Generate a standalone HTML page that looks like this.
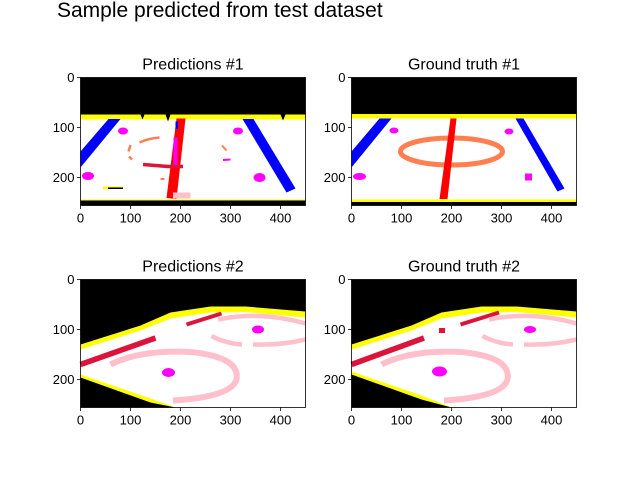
<!DOCTYPE html>
<html><head><meta charset="utf-8"><style>
body{margin:0;background:#fff;}
svg{display:block;font-family:"Liberation Sans","DejaVu Sans",sans-serif;}
</style></head><body>
<svg id="fig" width="640" height="480" viewBox="0 0 640 480">
<rect width="640" height="480" fill="#fff"/>
<text x="57" y="17" font-size="21" fill="#000">Sample predicted from test dataset</text>

<g transform="translate(80.5,77.5) scale(0.5)">
<rect x="0" y="0" width="450" height="256" fill="#000"/>
<rect x="0" y="74" width="450" height="172" fill="#ffff00"/>
<rect x="0" y="84" width="450" height="160" fill="#fff"/>
<rect x="0" y="251" width="450" height="5" fill="#000"/>
<polygon points="120,74 128,74 124,84" fill="#000"/><polygon points="170,74 180,74 175,88" fill="#000"/><polygon points="400,74 410,74 405,86" fill="#000"/>
<polygon points="56,83 80,83 0,180 0,148" fill="#0000ff"/>
<polygon points="324,83 346,83 430,222 412,230" fill="#0000ff"/>
<polygon points="192,82 210,82 192,243 172,241" fill="#ff0000"/>
<rect x="190" y="88" width="5" height="15" fill="#0000ff"/>
<ellipse cx="85" cy="107" rx="10" ry="7" fill="#ff00ff"/>
<ellipse cx="315" cy="107" rx="10" ry="7" fill="#ff00ff"/>
<ellipse cx="15" cy="197" rx="12" ry="8" fill="#ff00ff"/>
<ellipse cx="358" cy="200" rx="12" ry="9" fill="#ff00ff"/>
<rect x="186" y="120" width="8" height="55" fill="#ff00ff"/>
<path d="M118,130 Q135,122 158,120" stroke="#ff7f50" stroke-width="5" fill="none"/>
<path d="M100,135 L96,148" stroke="#ff7f50" stroke-width="5" fill="none"/>
<path d="M97,158 L103,164" stroke="#ff7f50" stroke-width="5" fill="none"/>
<path d="M283,136 L292,146" stroke="#ff7f50" stroke-width="4" fill="none"/>
<path d="M160,203 L168,203" stroke="#ff7f50" stroke-width="4" fill="none"/>
<path d="M125,174 L175,178 L205,178" stroke="#dc143c" stroke-width="7" fill="none"/>
<path d="M285,165 L300,164" stroke="#ff00ff" stroke-width="4" fill="none"/>
<rect x="185" y="230" width="35" height="12" fill="#ffc0cb"/>
<rect x="45" y="218" width="40" height="5" fill="#ffff00"/>
<rect x="55" y="220" width="30" height="3" fill="#000"/>
</g>

<g transform="translate(351.5,77.5) scale(0.5)">
<rect x="0" y="0" width="450" height="256" fill="#000"/>
<rect x="0" y="73" width="450" height="176" fill="#ffff00"/>
<rect x="0" y="82" width="450" height="162" fill="#fff"/>
<rect x="0" y="250" width="450" height="6" fill="#000"/>
<polygon points="56,82 80,82 0,180 0,148" fill="#0000ff"/>
<polygon points="328,82 344,82 426,222 412,228" fill="#0000ff"/>
<ellipse cx="200" cy="148" rx="102" ry="27" stroke="#ff7f50" stroke-width="10" fill="none"/>
<polygon points="198,82 210,82 192,243 176,243" fill="#ff0000"/>
<ellipse cx="85" cy="106" rx="9" ry="6" fill="#ff00ff"/>
<ellipse cx="315" cy="108" rx="9" ry="6" fill="#ff00ff"/>
<ellipse cx="16" cy="198" rx="13" ry="7" fill="#ff00ff"/>
<rect x="347" y="192" width="14" height="14" fill="#ff00ff"/>
</g>

<g transform="translate(80.5,279.5) scale(0.5)">
<rect x="0" y="0" width="450" height="256" fill="#000"/>
<polygon points="0,130 120,92 180,66 260,54 330,54 450,64 450,256 190,256 140,246 0,196" fill="#ffff00"/>
<polygon points="0,140 120,102 180,78 260,66 330,65 450,76 450,256 190,256 140,238 0,190" fill="#fff"/>
<path d="M0,170 L150,117" stroke="#dc143c" stroke-width="11" fill="none"/>
<path d="M212,90 L282,68" stroke="#dc143c" stroke-width="8" fill="none"/>
<path d="M60,170 Q120,140 220,145 Q320,155 312,200 Q302,235 185,242" stroke="#ffc0cb" stroke-width="12" fill="none"/>
<path d="M275,80 Q360,62 450,88" stroke="#ffc0cb" stroke-width="9" fill="none"/>
<path d="M262,113 Q290,128 323,130" stroke="#ffc0cb" stroke-width="9" fill="none"/>
<path d="M345,130 Q400,132 450,120" stroke="#ffc0cb" stroke-width="9" fill="none"/>
<ellipse cx="355" cy="100" rx="12" ry="8" fill="#ff00ff"/>
<ellipse cx="176" cy="186" rx="13" ry="9" fill="#ff00ff"/>
</g>

<g transform="translate(351.5,279.5) scale(0.5)">
<rect x="0" y="0" width="450" height="256" fill="#000"/>
<polygon points="0,130 120,92 180,66 260,54 330,54 450,64 450,256 200,256 140,240 0,190" fill="#ffff00"/>
<polygon points="0,140 120,102 180,78 260,66 330,65 450,76 450,256 200,256 140,232 0,184" fill="#fff"/>
<path d="M0,170 L145,117" stroke="#dc143c" stroke-width="11" fill="none"/>
<path d="M218,90 L295,66" stroke="#dc143c" stroke-width="8" fill="none"/>
<rect x="175" y="97" width="12" height="10" fill="#dc143c"/>
<path d="M60,170 Q120,140 220,145 Q320,155 312,200 Q302,235 185,242" stroke="#ffc0cb" stroke-width="12" fill="none"/>
<path d="M275,80 Q360,62 450,88" stroke="#ffc0cb" stroke-width="9" fill="none"/>
<path d="M262,113 Q290,128 323,130" stroke="#ffc0cb" stroke-width="9" fill="none"/>
<path d="M345,130 Q400,132 450,120" stroke="#ffc0cb" stroke-width="9" fill="none"/>
<ellipse cx="357" cy="100" rx="12" ry="7" fill="#ff00ff"/>
<ellipse cx="176" cy="184" rx="15" ry="10" fill="#ff00ff"/>
</g>
<g id="axes-layer"></g>
</svg>
<script>
const xTicks = [0, 100, 200, 300, 400];
const yTicks = [0, 100, 200];
const imgWidth = [450];
const imgHeight = [256];
const panelTitles = ["Predictions #1", "Ground truth #1", "Predictions #2", "Ground truth #2"];

const NS = "http://www.w3.org/2000/svg";
const layer = document.getElementById("axes-layer");
const origins = [[80.5, 77.5], [351.5, 77.5], [80.5, 279.5], [351.5, 279.5]];
const scale = 0.5;
function mk(tag, attrs) {
  const e = document.createElementNS(NS, tag);
  for (const k in attrs) e.setAttribute(k, attrs[k]);
  return e;
}
origins.forEach(function (o, i) {
  const ox = o[0], oy = o[1];
  const w = imgWidth[0] * scale, h = imgHeight[0] * scale;
  const sx = v => ox + v * scale;
  const sy = v => oy + v * scale;
  const frame = mk("rect", {x: ox, y: oy, width: w, height: h, fill: "none", stroke: "#000", "stroke-width": 0.8});
  
  
  layer.appendChild(frame);
  const t = mk("text", {x: ox + w / 2, y: oy - 8, "font-size": 16, "text-anchor": "middle", fill: "#000"});
  t.textContent = panelTitles[i];
  
  
  layer.appendChild(t);
  xTicks.forEach(function (v) {
    const x = sx(v);
    const tk = mk("line", {x1: x, x2: x, y1: oy + h, y2: oy + h + 3.5, stroke: "#000", "stroke-width": 0.8});
    
    
    layer.appendChild(tk);
    const lb = mk("text", {x: x, y: oy + h + 17, "font-size": 13, "text-anchor": "middle", fill: "#000"});
    lb.textContent = v;
    
    
    layer.appendChild(lb);
  });
  yTicks.forEach(function (v) {
    const y = sy(v);
    const tk = mk("line", {x1: ox - 3.5, x2: ox, y1: y, y2: y, stroke: "#000", "stroke-width": 0.8});
    
    
    layer.appendChild(tk);
    const lb = mk("text", {x: ox - 6, y: y + 4.5, "font-size": 13, "text-anchor": "end", fill: "#000"});
    lb.textContent = v;
    
    
    layer.appendChild(lb);
  });
});
</script>
</body></html>
